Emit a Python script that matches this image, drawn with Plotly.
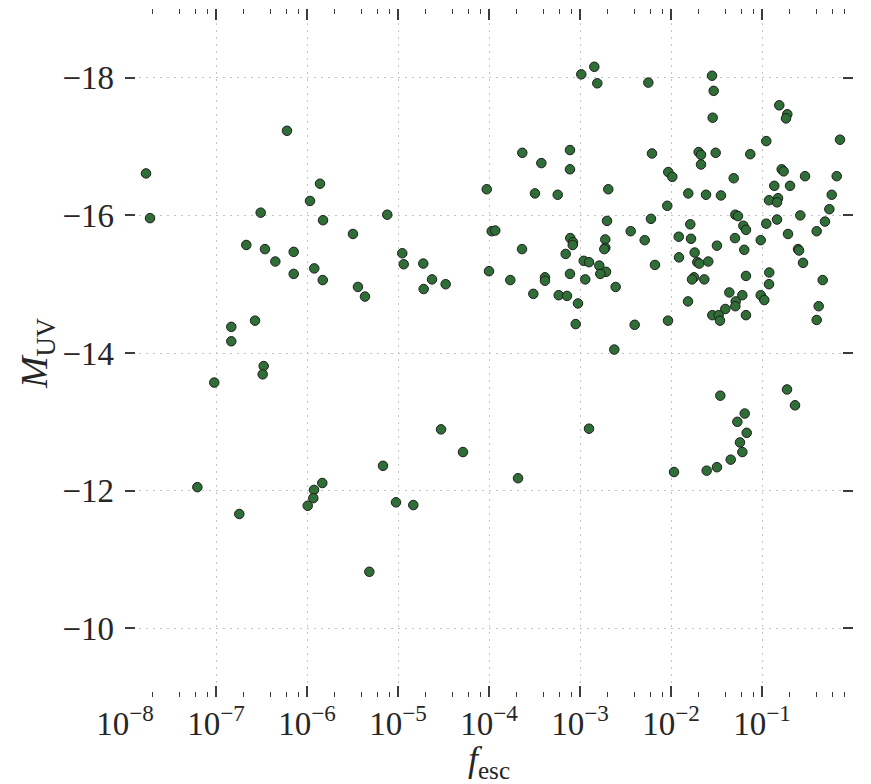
import numpy as np
import plotly.graph_objects as go

# Escape fraction (log10) and UV magnitude for each galaxy
log_fesc = [
    -7.769, -7.725, -6.220, -5.857, -5.967, -6.509, -5.824, -5.118, -5.495, -6.667,
    -6.462, -6.146, -6.348, -5.920, -6.146, -5.827, -5.440, -5.363, -4.953, -4.937,
    -4.722, -4.718, -6.571, -6.832, -6.832, -6.476, -6.487, -7.019, -4.527, -4.286,
    -5.165, -3.681, -7.205, -5.832, -5.923, -5.931, -5.992, -6.744, -5.022, -4.832,
    -5.315, -2.901,
    -2.843, -2.986, -2.810, -3.634, -3.110, -3.425, -3.110, -4.025, -3.495, -3.245,
    -2.689, -2.703, -2.443, -3.970, -3.931, -3.637, -3.107, -3.077, -3.080, -2.722,
    -2.722, -2.733, -3.157, -2.959, -2.901, -2.788, -2.714, -2.777, -3.110, -4.626,
    -4.476, -4.000, -3.766, -3.385, -3.385, -2.942, -2.608, -3.513, -3.234, -3.143,
    -3.022, -3.047, -2.399, -2.623,
    -2.249, -1.549, -1.531, -1.542, -0.810, -0.722, -0.736, -0.143, -0.953, -2.209,
    -1.696, -1.670, -1.509, -1.129, -1.670, -2.030, -1.986, -1.311, -0.784, -0.762,
    -0.527, -0.179, -0.865, -0.692, -1.810, -1.615, -1.451, -0.234, -0.923, -0.824,
    -0.835, -2.041, -0.260, -2.220, -1.293, -1.264, -0.579, -0.835, -1.788, -1.205,
    -1.176, -0.953, -0.308, -2.289, -1.915, -1.780, -1.297, -0.714, -0.399, -1.014,
    -1.740, -1.495, -1.195, -0.604, -0.593, -1.912, -2.176, -1.711, -1.689, -1.590,
    -0.549, -0.920, -1.176, -0.923, -0.333, -1.747, -1.769, -1.634, -1.359, -1.216,
    -1.014, -0.975, -1.289, -1.293, -1.813, -1.403, -1.546, -1.476, -1.462, -1.176,
    -0.377, -0.399, -2.033,
    -1.458, -1.190, -1.271, -1.168, -1.242, -1.216, -1.344, -1.495, -1.608, -1.967,
    -0.725, -0.637,
]

m_uv = [
    -16.61, -15.96, -17.23, -16.46, -16.21, -16.04, -15.93, -16.01, -15.73, -15.57,
    -15.51, -15.47, -15.33, -15.23, -15.15, -15.06, -14.96, -14.82, -15.45, -15.29,
    -15.30, -14.93, -14.47, -14.38, -14.17, -13.81, -13.69, -13.57, -12.89, -12.56,
    -12.36, -12.18, -12.05, -12.11, -12.01, -11.89, -11.78, -11.66, -11.83, -11.79,
    -10.82, -12.90,
    -18.16, -18.05, -17.92, -16.91, -16.95, -16.76, -16.67, -16.38, -16.32, -16.30,
    -16.38, -15.92, -15.77, -15.77, -15.78, -15.51, -15.67, -15.61, -15.57, -15.65,
    -15.53, -15.51, -15.44, -15.34, -15.32, -15.27, -15.18, -15.15, -15.15, -15.07,
    -15.00, -15.19, -15.06, -15.10, -15.05, -15.07, -14.96, -14.86, -14.84, -14.83,
    -14.72, -14.42, -14.41, -14.05,
    -17.93, -18.03, -17.81, -17.42, -17.60, -17.47, -17.41, -17.10, -17.08, -16.90,
    -16.92, -16.88, -16.91, -16.89, -16.74, -16.63, -16.56, -16.54, -16.67, -16.64,
    -16.57, -16.57, -16.43, -16.43, -16.32, -16.30, -16.29, -16.30, -16.22, -16.25,
    -16.19, -16.14, -16.09, -15.95, -16.01, -15.99, -16.00, -15.94, -15.87, -15.85,
    -15.79, -15.88, -15.91, -15.64, -15.69, -15.66, -15.67, -15.73, -15.77, -15.64,
    -15.46, -15.56, -15.50, -15.51, -15.49, -15.39, -15.28, -15.32, -15.30, -15.33,
    -15.31, -15.17, -15.12, -15.00, -15.06, -15.10, -15.07, -15.07, -14.88, -14.84,
    -14.84, -14.77, -14.75, -14.68, -14.75, -14.64, -14.55, -14.55, -14.47, -14.55,
    -14.68, -14.48, -14.47,
    -13.38, -13.12, -13.00, -12.84, -12.70, -12.56, -12.45, -12.34, -12.29, -12.27,
    -13.47, -13.24,
]

f_esc = 10.0 ** np.array(log_fesc)

# Axis ticks
x_tick_exp = [-8, -7, -6, -5, -4, -3, -2, -1, 0]
x_tick_vals = [10.0 ** e for e in x_tick_exp]
x_tick_text = ["10<sup>" + ("\u2212" + str(-e) if e < 0 else str(e)) + "</sup>" for e in x_tick_exp]
x_minor_vals = [m * 10.0 ** e for e in x_tick_exp[:-1] for m in (2, 4, 6, 8)]
y_tick_vals = [-18, -16, -14, -12, -10]
y_tick_text = ["\u2212" + str(-v) for v in y_tick_vals]

FONT = "Liberation Serif"
TEXT_COLOR = "#262626"
TICK_COLOR = "#3c3c3c"
GRID_COLOR = "#c4c4c4"

fig = go.Figure(
    go.Scatter(
        x=f_esc,
        y=m_uv,
        mode="markers",
        marker=dict(size=9.5, color="#2f6e37", line=dict(color="#1e1e1e", width=1)),
        hoverinfo="x+y",
    )
)

fig.update_layout(
    width=871,
    height=784,
    margin=dict(l=125, r=18, t=9, b=87),
    paper_bgcolor="white",
    plot_bgcolor="white",
    showlegend=False,
    font=dict(family=FONT, color=TEXT_COLOR, size=32),
)

fig.update_xaxes(
    type="log",
    range=[-8, 0],
    automargin=False,
    tickmode="array",
    tickvals=x_tick_vals,
    ticktext=x_tick_text,
    ticks="inside",
    ticklen=11,
    tickwidth=1.5,
    tickcolor=TICK_COLOR,
    mirror="ticks",
    showline=False,
    zeroline=False,
    showgrid=True,
    gridcolor=GRID_COLOR,
    griddash="2px,5px",
    gridwidth=1,
    tickfont=dict(family=FONT, size=33, color=TEXT_COLOR),
    ticklabelstandoff=4,
    minor=dict(
        tickmode="array",
        tickvals=x_minor_vals,
        ticks="inside",
        ticklen=5,
        tickwidth=1.2,
        tickcolor=TICK_COLOR,
        showgrid=False,
    ),
    title=dict(
        text="<i>f</i><sub>esc</sub>",
        font=dict(family=FONT, size=36, color=TEXT_COLOR),
        standoff=10,
    ),
)

fig.update_yaxes(
    range=[-9, -19],
    automargin=False,
    tickmode="array",
    tickvals=y_tick_vals,
    ticktext=y_tick_text,
    ticks="inside",
    ticklen=10,
    tickwidth=1.5,
    tickcolor=TICK_COLOR,
    mirror="ticks",
    showline=False,
    zeroline=False,
    showgrid=True,
    gridcolor=GRID_COLOR,
    griddash="2px,5px",
    gridwidth=1,
    tickfont=dict(family=FONT, size=33, color=TEXT_COLOR),
    ticklabelstandoff=10,
    title=dict(
        text="<i>M</i><sub>UV</sub>",
        font=dict(family=FONT, size=38, color=TEXT_COLOR),
        standoff=3,
    ),
)

fig.write_html("out.html")
